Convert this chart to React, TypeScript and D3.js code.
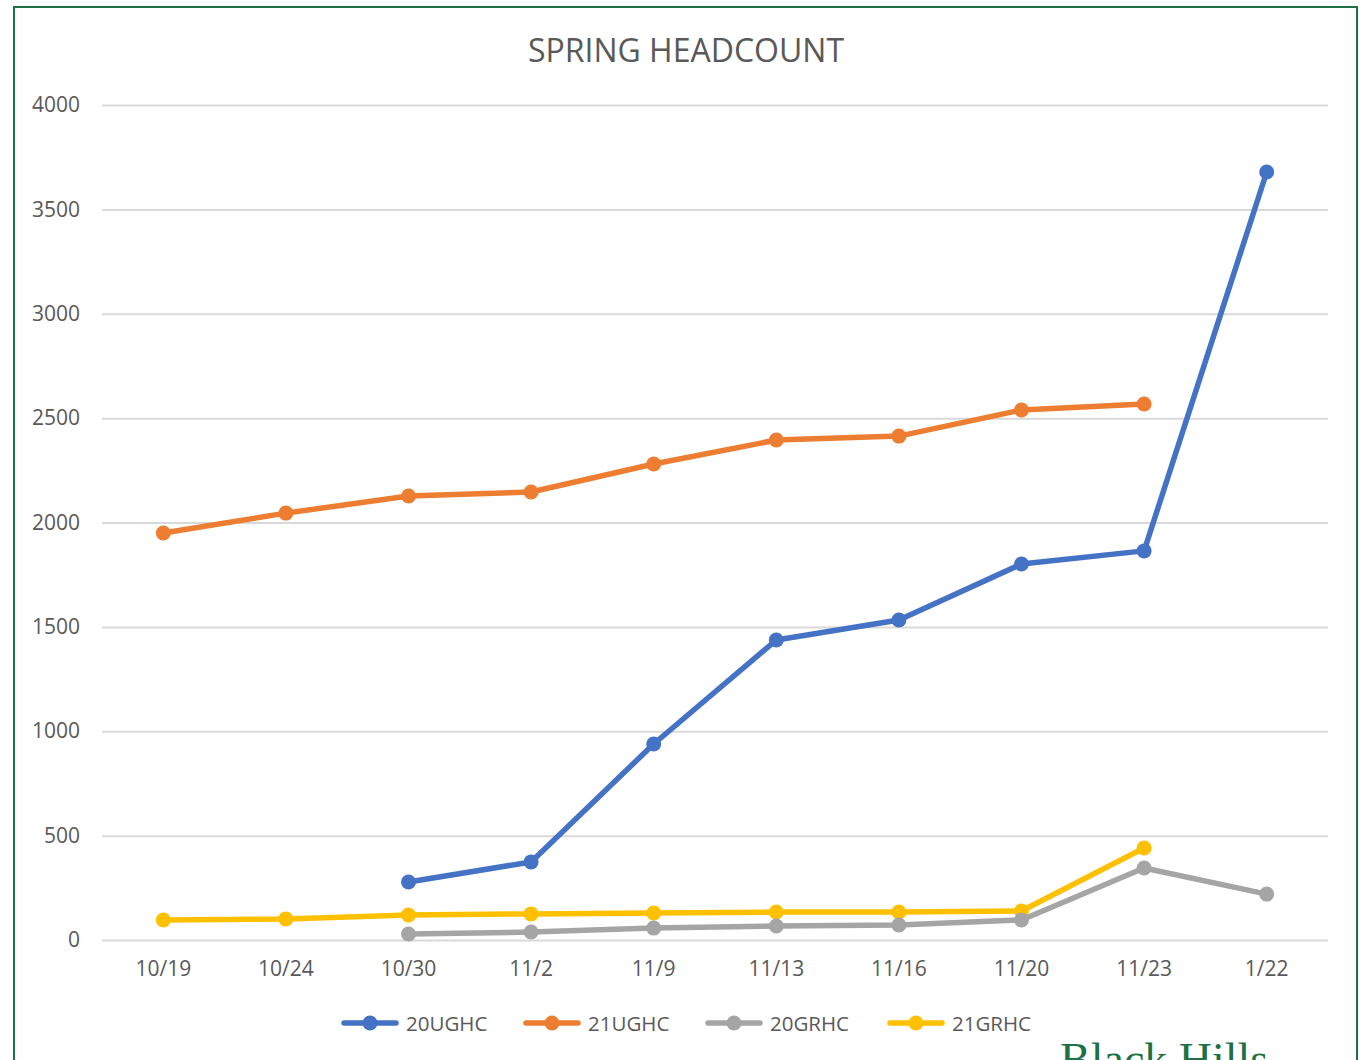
import * as d3 from 'd3';
import React, { useRef, useEffect } from 'react';

const dates = ['10/19', '10/24', '10/30', '11/2', '11/9', '11/13', '11/16', '11/20', '11/23', '1/22'];
const ug20 = [null, null, 278, 374, 939, 1437, 1533, 1801, 1864, 3679];
const ug21 = [1950, 2045, 2127, 2146, 2280, 2395, 2414, 2539, 2568, null];
const gr20 = [null, null, 29, 38, 57, 67, 72, 96, 345, 220];
const gr21 = [96, 101, 120, 125, 129, 134, 134, 139, 441, null];
const yTicks = [0, 500, 1000, 1500, 2000, 2500, 3000, 3500, 4000];

const series = [
    { name: '20UGHC', values: ug20, color: '#4472C4' },
    { name: '21UGHC', values: ug21, color: '#ED7D31' },
    { name: '20GRHC', values: gr20, color: '#A5A5A5' },
    { name: '21GRHC', values: gr21, color: '#FFC000' },
];

const W = 1362, H = 1060;
const FONT = 'Open Sans, sans-serif';
const TXT = '#595959';

function LineChart() {
    const ref = useRef(null);

    useEffect(() => {
        document.body.style.margin = '0';
        const svg = d3.select(ref.current);
        svg.selectAll('*').remove();

        svg.append('rect').attr('width', W).attr('height', H).attr('fill', '#fff');

        const x = d3.scaleBand().domain(dates).range([102, 1328]);
        const y = d3.scaleLinear().domain([0, 4000]).range([940, 105]);
        const cx = (d) => x(d) + x.bandwidth() / 2;

        // title
        svg.append('text')
            .attr('x', 686).attr('y', 62)
            .attr('text-anchor', 'middle')
            .style('font-family', FONT).style('font-size', '32px').style('fill', TXT)
            .text('SPRING HEADCOUNT');

        // gridlines + y labels
        const yAxis = svg.append('g').attr('transform', 'translate(102,0)')
            .call(d3.axisLeft(y).tickValues(yTicks).tickFormat(d3.format('d')).tickSize(-1226).tickPadding(22));
        yAxis.select('.domain').remove();
        yAxis.selectAll('line').attr('stroke', '#d9d9d9').attr('stroke-width', 2);
        yAxis.selectAll('text')
            .style('font-family', FONT).style('font-size', '21px').style('fill', TXT);

        // x labels
        const xAxis = svg.append('g').attr('transform', 'translate(0,940)')
            .call(d3.axisBottom(x).tickSize(0).tickPadding(21));
        xAxis.select('.domain').remove();
        xAxis.selectAll('text')
            .style('font-family', FONT).style('font-size', '21px').style('fill', TXT);

        const line = d3.line()
            .defined(d => d.v != null)
            .x(d => cx(d.date))
            .y(d => y(d.v));

        // draw in reverse so blue is on top
        [...series].reverse().forEach(s => {
            const pts = dates.map((date, i) => ({ date, v: s.values[i] }));
            svg.append('path')
                .datum(pts)
                .attr('d', line)
                .attr('fill', 'none')
                .attr('stroke', s.color)
                .attr('stroke-width', 5.5)
                .attr('stroke-linejoin', 'round')
                .attr('stroke-linecap', 'round');
            svg.selectAll(null)
                .data(pts.filter(d => d.v != null))
                .join('circle')
                .attr('cx', d => cx(d.date))
                .attr('cy', d => y(d.v))
                .attr('r', 7.5)
                .attr('fill', s.color);
        });

        // legend
        const leg = svg.append('g').attr('transform', 'translate(342,1023)');
        series.forEach((s, i) => {
            const g = leg.append('g').attr('transform', `translate(${i * 182},0)`);
            g.append('line').attr('x1', 2).attr('x2', 54).attr('y1', 0).attr('y2', 0)
                .attr('stroke', s.color).attr('stroke-width', 5.5).attr('stroke-linecap', 'round');
            g.append('circle').attr('cx', 28).attr('cy', 0).attr('r', 7.5).attr('fill', s.color);
            g.append('text').attr('x', 64).attr('y', 8)
                .style('font-family', FONT).style('font-size', '20.5px').style('fill', TXT)
                .text(s.name);
        });

        // logo text, cut off at the bottom as in the original
        svg.append('text')
            .attr('x', 1060).attr('y', 1075)
            .style('font-family', 'Liberation Serif, serif').style('font-size', '46px')
            .style('fill', '#1e7145')
            .text('Black Hills');

        // frame
        svg.append('rect')
            .attr('x', 14).attr('y', 7).attr('width', 1343).attr('height', 1080)
            .attr('fill', 'none').attr('stroke', '#1e7145').attr('stroke-width', 2);
    }, []);

    return <svg ref={ref} width={W} height={H} style={{ display: 'block' }}></svg>;
}

export default function App() {
    return <LineChart />;
}
